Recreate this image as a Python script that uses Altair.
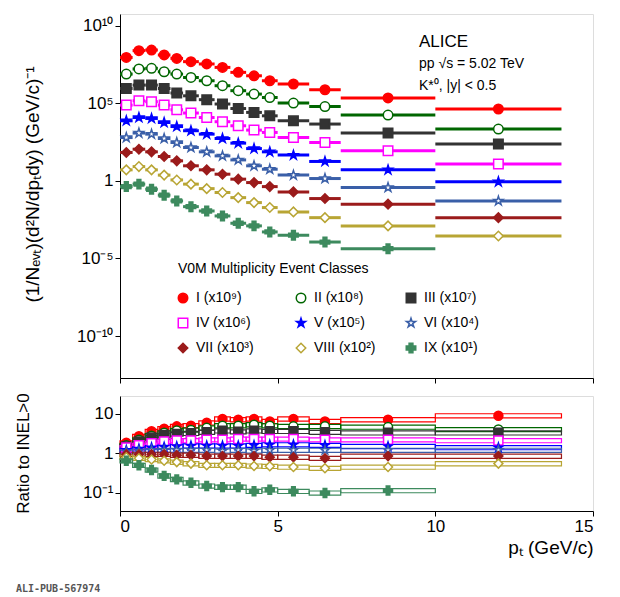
import altair as alt
import pandas as pd

bin_lo = [0.0,0.4,0.8,1.2,1.6,2.0,2.5,3.0,3.5,4.0,4.5,5.0,6.0,7.0,10.0]
bin_hi = [0.4,0.8,1.2,1.6,2.0,2.5,3.0,3.5,4.0,4.5,5.0,6.0,7.0,10.0,14.0]
bin_c  = [0.2,0.6,1.0,1.4,1.8,2.25,2.75,3.25,3.75,4.25,4.75,5.5,6.5,8.5,12.0]

classes = ["I","II","III","IV","V","VI","VII","VIII","IX"]
labels = ["I (x10⁹)","II (x10⁸)","III (x10⁷)","IV (x10⁶)","V (x10⁵)","VI (x10⁴)","VII (x10³)","VIII (x10²)","IX (x10¹)"]
colors = ["#ff0000","#006600","#333333","#ff00ff","#0000ff","#3a5fa8","#9b1b1b","#b8a534","#3d8a5e"]
filled = [True,False,True,False,True,False,True,False,True]
STAR = "M0,-1L0.22,-0.31L0.95,-0.31L0.36,0.12L0.59,0.81L0,0.38L-0.59,0.81L-0.36,0.12L-0.95,-0.31L-0.22,-0.31Z"
shapes = ["circle","circle","square","square",STAR,STAR,"diamond","diamond","cross"]

# log10 of scaled spectra
log_spec = {
 "I":   [7.95,8.39,8.43,8.11,7.89,7.68,7.53,7.31,6.99,6.77,6.45,6.24,5.87,5.34,4.63],
 "II":  [6.88,7.21,7.25,7.03,6.88,6.66,6.45,6.13,5.81,5.59,5.37,5.01,4.79,4.24,3.34],
 "III": [5.95,6.17,6.17,5.95,5.66,5.48,5.23,4.95,4.66,4.41,4.19,3.87,3.66,3.08,2.37],
 "IV":  [4.88,5.16,5.10,4.88,4.58,4.37,4.08,3.81,3.55,3.27,3.12,2.79,2.47,1.94,1.08],
 "V":   [3.87,4.08,4.02,3.76,3.50,3.23,3.01,2.73,2.43,2.08,1.87,1.66,1.25,0.71,-0.06],
 "VI":  [2.79,3.08,3.01,2.73,2.47,2.15,1.87,1.61,1.35,0.97,0.75,0.37,0.15,-0.43,-1.29],
 "VII": [1.83,2.04,1.87,1.57,1.29,0.97,0.71,0.43,0.11,-0.11,-0.37,-0.71,-1.14,-1.50,-2.37],
 "VIII":[0.71,0.92,0.71,0.37,0.06,-0.21,-0.50,-0.75,-1.08,-1.40,-1.72,-2.0,-2.37,-2.90,-3.55],
 "IX":  [-0.37,-0.21,-0.54,-0.92,-1.29,-1.66,-1.94,-2.26,-2.73,-2.90,-3.29,-3.50,-3.94,-4.37],
}
ratio = {
 "I":   [1.85,2.7,3.6,4.2,4.8,5.0,5.9,7.4,7.1,7.4,6.4,7.4,6.4,7.1,8.9],
 "II":  [1.6,2.2,2.8,3.3,3.8,3.9,4.4,5.0,5.0,5.3,5.0,4.8,4.8,4.6,4.0],
 "III": [1.5,2.0,2.5,2.9,3.1,3.2,3.4,3.7,3.5,3.7,3.6,3.6,3.4,3.3,3.3],
 "IV":  [1.4,1.6,1.8,2.0,2.1,2.1,2.2,2.2,2.3,2.3,2.3,2.3,2.2,2.2,2.1],
 "V":   [1.2,1.3,1.4,1.45,1.5,1.55,1.55,1.55,1.55,1.6,1.65,1.65,1.6,1.5,1.4],
 "VI":  [1.1,1.15,1.2,1.2,1.2,1.2,1.2,1.15,1.2,1.15,1.2,1.2,1.2,1.2,1.2],
 "VII": [0.95,0.95,0.95,0.95,0.9,0.9,0.85,0.85,0.85,0.85,0.8,0.8,0.75,0.85,0.85],
 "VIII":[0.8,0.75,0.7,0.65,0.6,0.55,0.5,0.5,0.5,0.48,0.47,0.45,0.42,0.45,0.55],
 "IX":  [0.65,0.5,0.38,0.27,0.22,0.18,0.15,0.14,0.14,0.11,0.12,0.11,0.1,0.115],
}

rows = []
for i, c in enumerate(classes):
    for j, (ls, r) in enumerate(zip(log_spec[c], ratio[c])):
        rows.append(dict(cls=c, lo=bin_lo[j], hi=bin_hi[j], x=bin_c[j], y=10**ls,
                         r=r, rlo=r*0.88, rhi=r*1.12, color=colors[i],
                         fill=colors[i] if filled[i] else "white", shape=shapes[i]))
df = pd.DataFrame(rows)

FONT = "Liberation Sans"
xsc = alt.Scale(domain=[0, 15], nice=False)
ysc = alt.Scale(type="log", domain=[10**-12.7, 10**10.75], nice=False)
rsc = alt.Scale(type="log", domain=[0.035, 28], nice=False)

top_lbl = "datum.value==1 ? '1' : datum.value>1 ? '10' + (datum.value>1e7 ? '¹⁰' : '⁵') : '10' + (datum.value<1e-7 ? '⁻¹⁰' : '⁻⁵')"
ax_top = alt.Axis(values=[1e-10,1e-5,1,1e5,1e10], labelExpr=top_lbl, labelFont=FONT, labelFontSize=17,
                  titleFont=FONT, titleFontSize=19, titleFontWeight="normal", tickColor="black",
                  domainColor="black", grid=False, labelColor="black", titleColor="black",
                  titleX=-78, titleY=170, titleAnchor="middle", titleAngle=270, titleBaseline="bottom")
xax_top = alt.Axis(labels=False, title=None, values=[0,5,10,15], grid=False, tickColor="black", domainColor="black")

base = alt.Chart(df)
x_enc = alt.X("lo:Q", scale=xsc, axis=xax_top)
top_lines = base.mark_rule(strokeWidth=3).encode(
    x=x_enc, x2="hi:Q",
    y=alt.Y("y:Q", scale=ysc, axis=ax_top, title="(1/Nₑᵥₜ)(d²N/dpₜdy) (GeV/c)⁻¹"),
    color=alt.Color("color:N", scale=None))
top_pts = base.mark_point(size=90, strokeWidth=1.5, opacity=1).encode(
    x=alt.X("x:Q", scale=xsc), y=alt.Y("y:Q", scale=ysc),
    color=alt.Color("color:N", scale=None), fill=alt.Fill("fill:N", scale=None),
    shape=alt.Shape("shape:N", scale=None))

# legend
leg_rows = []
for i in range(9):
    leg_rows.append(dict(lab=labels[i], color=colors[i], fill=colors[i] if filled[i] else "white",
                         shape=shapes[i], px=[63,181,291][i % 3], py=[284,309,334][i // 3]))
leg = pd.DataFrame(leg_rows)
leg_pts = alt.Chart(leg).mark_point(size=90, strokeWidth=1.5, opacity=1).encode(
    x=alt.X("px:Q", scale=None), y=alt.Y("py:Q", scale=None),
    color=alt.Color("color:N", scale=None), fill=alt.Fill("fill:N", scale=None),
    shape=alt.Shape("shape:N", scale=None))
leg_txt = alt.Chart(leg).mark_text(align="left", font=FONT, fontSize=14, dx=13, color="black").encode(
    x=alt.X("px:Q", scale=None), y=alt.Y("py:Q", scale=None), text="lab:N")

def txt(s, x, y, size=15):
    return alt.Chart(pd.DataFrame({"t": [s]})).mark_text(align="left", font=FONT, fontSize=size, color="black").encode(
        x=alt.value(x), y=alt.value(y), text="t:N")

top = alt.layer(top_lines, top_pts, leg_pts, leg_txt,
                txt("V0M Multiplicity Event Classes", 58, 255, 14),
                txt("ALICE", 299, 28, 17), txt("pp √s = 5.02 TeV", 299, 50, 14),
                txt("K*⁰, |y| < 0.5", 299, 72, 14)).properties(width=473, height=364)

ax_r = alt.Axis(values=[0.1,1,10], labelExpr="datum.value==0.1 ? '10⁻¹' : datum.value==1 ? '1' : '10'",
                labelFont=FONT, labelFontSize=17, titleFont=FONT, titleFontSize=17, titleFontWeight="normal",
                grid=False, tickColor="black", domainColor="black", labelColor="black", titleColor="black",
                titleX=-88, titleY=57, titleAnchor="middle", titleAngle=270, titleBaseline="bottom")
xax_b = alt.Axis(values=[0,5,10,15], labelFont=FONT, labelFontSize=17, title="pₜ (GeV/c)",
                 titleFont=FONT, titleFontSize=19, titleFontWeight="normal", titleAnchor="end",
                 grid=False, tickColor="black", domainColor="black", labelColor="black", titleColor="black")
boxes = base.mark_rect(fill=None, strokeWidth=1.2).encode(
    x=alt.X("lo:Q", scale=xsc, axis=xax_b), x2="hi:Q",
    y=alt.Y("rlo:Q", scale=rsc, axis=ax_r, title="Ratio to INEL>0"), y2="rhi:Q",
    stroke=alt.Stroke("color:N", scale=None))
rpts = base.mark_point(size=80, strokeWidth=1.5, opacity=1).encode(
    x=alt.X("x:Q", scale=xsc), y=alt.Y("r:Q", scale=rsc),
    color=alt.Color("color:N", scale=None), fill=alt.Fill("fill:N", scale=None),
    shape=alt.Shape("shape:N", scale=None))
bottom = alt.layer(boxes, rpts,
    alt.Chart(pd.DataFrame({"t": ["ALI-PUB-567974"]})).mark_text(align="left", font="DejaVu Sans Mono",
        fontSize=10, fontWeight="bold", color="#555555").encode(x=alt.value(-104), y=alt.value(193), text="t:N")
).properties(width=473, height=115)

chart = alt.vconcat(top, bottom, spacing=8).configure_view(stroke="black", strokeWidth=1.5).configure(background="white")
chart.save("out.html", embed_options={"renderer": "svg", "actions": False})
